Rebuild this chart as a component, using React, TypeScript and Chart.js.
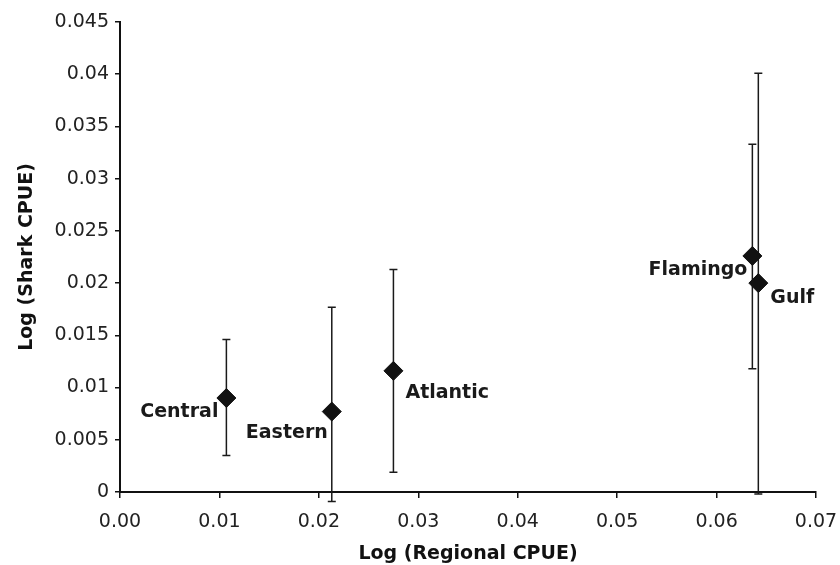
import React, { useEffect, useRef } from 'react';
import { Chart, registerables } from 'chart.js';

Chart.register(...registerables);

// ---- data ----
const siteNames = ['Central', 'Eastern', 'Atlantic', 'Flamingo', 'Gulf'];
const regionalCpue = [0.0107, 0.0213, 0.0275, 0.0636, 0.0642];
const sharkCpue = [0.009, 0.0077, 0.0116, 0.0226, 0.02];
const errorLow = [0.0035, -0.0009, 0.0019, 0.0118, -0.0002];
const errorHigh = [0.0146, 0.0177, 0.0213, 0.0333, 0.0401];

const xMin = 0;
const xMax = 0.07;
const xStep = 0.01;
const yMin = 0;
const yMax = 0.045;
const yStep = 0.005;

const xTitle = 'Log (Regional CPUE)';
const yTitle = 'Log (Shark CPUE)';

// label placement (style, not data)
const labelPlacement = [
  { align: 'right', dx: -8, dy: 14 },
  { align: 'right', dx: -4, dy: 21 },
  { align: 'left', dx: 12, dy: 22 },
  { align: 'right', dx: -5, dy: 14 },
  { align: 'left', dx: 12, dy: 15 },
];

const FONT = "'DejaVu Sans', Arial, Helvetica, sans-serif";
const FS = 19;

const errorBarPlugin = {
  id: 'errorBars',
  beforeDatasetsDraw(chart: any) {
    const { ctx, scales } = chart;
    const xs = scales.x;
    const ys = scales.y;
    ctx.save();
    ctx.strokeStyle = '#1a1a1a';
    ctx.lineWidth = 1.5;
    for (let i = 0; i < regionalCpue.length; i++) {
      const x = xs.getPixelForValue(regionalCpue[i]);
      const yl = ys.getPixelForValue(errorLow[i]);
      const yh = ys.getPixelForValue(errorHigh[i]);
      ctx.beginPath();
      ctx.moveTo(x, yl);
      ctx.lineTo(x, yh);
      ctx.moveTo(x - 4, yl);
      ctx.lineTo(x + 4, yl);
      ctx.moveTo(x - 4, yh);
      ctx.lineTo(x + 4, yh);
      ctx.stroke();
    }
    ctx.restore();
  },
  afterDatasetsDraw(chart: any) {
    const { ctx, scales } = chart;
    const xs = scales.x;
    const ys = scales.y;
    ctx.save();
    ctx.fillStyle = '#1a1a1a';
    ctx.font = `bold ${FS}px ${FONT}`;
    ctx.textBaseline = 'middle';
    for (let i = 0; i < siteNames.length; i++) {
      const p = labelPlacement[i];
      const x = xs.getPixelForValue(regionalCpue[i]);
      const y = ys.getPixelForValue(sharkCpue[i]);
      ctx.textAlign = p.align as CanvasTextAlign;
      ctx.fillText(siteNames[i], x + p.dx, y + p.dy);
    }
    ctx.restore();
  },
};

export default function App() {
  const ref = useRef<HTMLCanvasElement | null>(null);
  useEffect(() => {
    if (!ref.current) return;
    const chart = new Chart(ref.current, {
      type: 'scatter',
      data: {
        datasets: [
          {
            data: regionalCpue.map((x, i) => ({ x, y: sharkCpue[i] })),
            pointStyle: 'rectRot',
            pointRadius: 9.5,
            pointHoverRadius: 9.5,
            backgroundColor: '#111',
            borderColor: '#111',
            borderWidth: 1,
          },
        ],
      },
      options: {
        animation: false,
        responsive: false,
        devicePixelRatio: 1,
        layout: { padding: { top: 22, right: 24, left: 0, bottom: 0 } },
        plugins: { legend: { display: false }, tooltip: { enabled: false } },
        scales: {
          x: {
            type: 'linear',
            min: xMin,
            max: xMax,
            afterFit: (s: any) => {
              s.height = 73;
              s.paddingLeft = 0;
              s.paddingRight = 0;
            },
            ticks: {
              stepSize: xStep,
              color: '#222',
              padding: 13,
              font: { family: FONT, size: FS },
              callback: (v: any) => Number(v).toFixed(2),
            },
            grid: {
              drawOnChartArea: false,
              drawTicks: true,
              tickLength: 6,
              color: '#111',
              lineWidth: 1.5,
            },
            border: { color: '#111', width: 2 },
            title: {
              display: true,
              text: xTitle,
              color: '#111',
              font: { family: FONT, size: FS, weight: 'bold' },
              padding: { top: 0, bottom: 0 },
            },
          },
          y: {
            type: 'linear',
            min: yMin,
            max: yMax,
            afterFit: (s: any) => {
              s.width = 120;
              s.paddingTop = 0;
              s.paddingBottom = 0;
            },
            ticks: {
              stepSize: yStep,
              color: '#222',
              padding: 6,
              font: { family: FONT, size: FS },
              callback: (v: any) => String(Number(Number(v).toFixed(3))),
            },
            grid: {
              drawOnChartArea: false,
              drawTicks: true,
              tickLength: 5,
              color: '#111',
              lineWidth: 1.5,
            },
            border: { color: '#111', width: 2 },
            title: {
              display: true,
              text: yTitle,
              color: '#111',
              font: { family: FONT, size: FS, weight: 'bold' },
              padding: { top: 16, bottom: 0 },
            },
          },
        },
      },
      plugins: [errorBarPlugin],
    });
    return () => chart.destroy();
  }, []);
  return (
    <div style={{ position: 'absolute', left: 0, top: 0, width: 840, height: 565, background: '#fff' }}>
      <canvas ref={ref} width={840} height={565} />
    </div>
  );
}
